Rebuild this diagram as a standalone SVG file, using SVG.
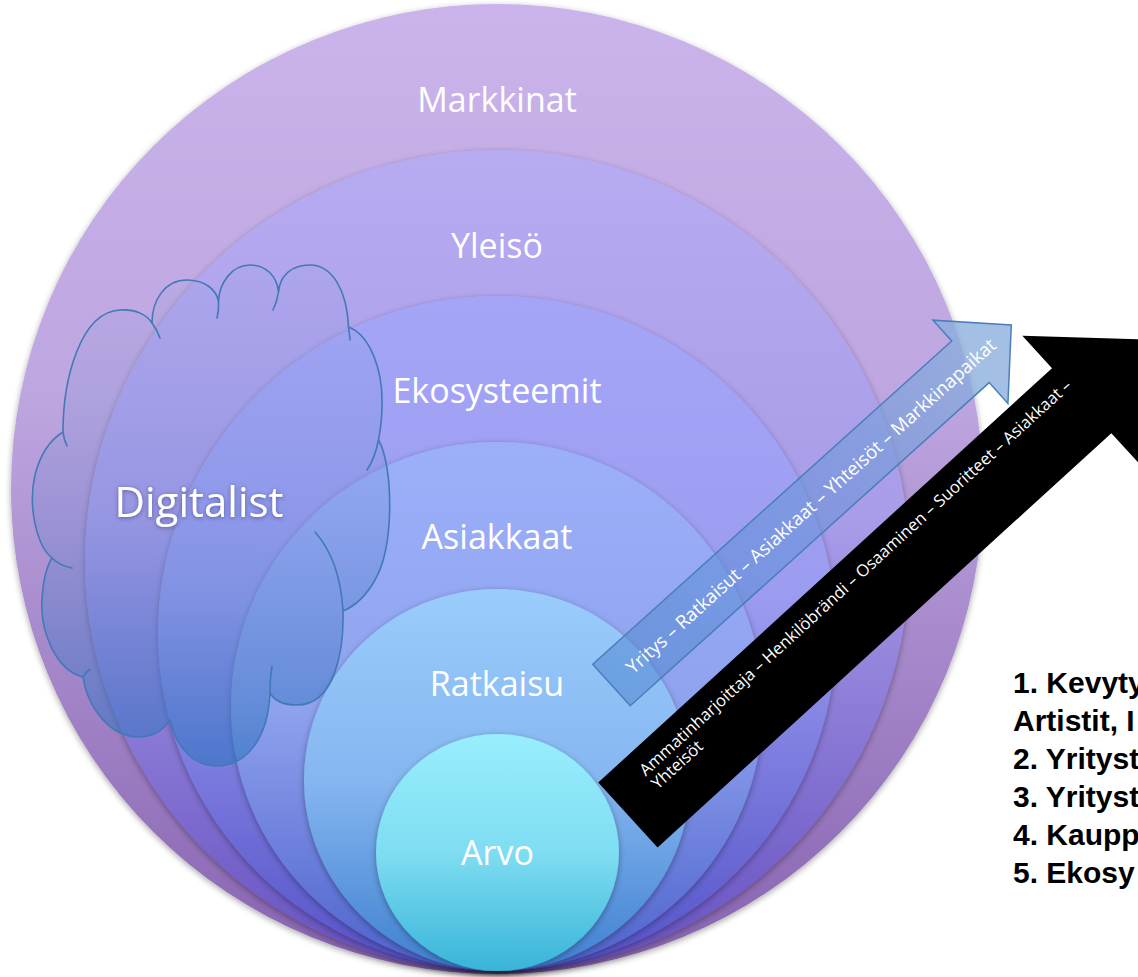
<svg xmlns="http://www.w3.org/2000/svg" width="1138" height="977" viewBox="0 0 1138 977">
<defs>
  <style>
    .lbl { font-family: "Open Sans", "Noto Sans", sans-serif; font-size: 34px; fill: #ffffff; text-anchor: middle; }
    .big { font-family: "Open Sans", "Noto Sans", sans-serif; font-size: 42px; fill: #ffffff; text-anchor: middle; }
    .atxt { font-family: "Open Sans", "Noto Sans", sans-serif; fill: #ffffff; }
    .list { font-family: "Liberation Sans", Arial, sans-serif; font-weight: bold; font-size: 30px; fill: #000000; }
    .ring { filter: url(#sh); }
    .cl { fill: none; stroke: #4279b6; stroke-width: 1.6; stroke-linecap: round; }
  </style>
  <filter id="sh" x="-5%" y="-5%" width="110%" height="112%">
    <feDropShadow dx="0" dy="2" stdDeviation="3" flood-color="#000000" flood-opacity="0.35"/>
  </filter>
  <filter id="ts" x="-10%" y="-30%" width="120%" height="160%">
    <feDropShadow dx="0" dy="1" stdDeviation="2" flood-color="#2a2a60" flood-opacity="0.55"/>
  </filter>
  <linearGradient id="g1" x1="0" y1="0" x2="0" y2="1">
    <stop offset="0" stop-color="#cab4eb"/><stop offset="0.4" stop-color="#bea6e0"/><stop offset="1" stop-color="#8763b0"/>
  </linearGradient>
  <linearGradient id="g2" x1="0" y1="0" x2="0" y2="1">
    <stop offset="0" stop-color="#b7abf2"/><stop offset="0.45" stop-color="#a99ce8"/><stop offset="1" stop-color="#6651c0"/>
  </linearGradient>
  <linearGradient id="g3" x1="0" y1="0" x2="0" y2="1">
    <stop offset="0" stop-color="#a5a5f8"/><stop offset="0.45" stop-color="#9b9cf0"/><stop offset="1" stop-color="#5452c8"/>
  </linearGradient>
  <linearGradient id="g4" x1="0" y1="0" x2="0" y2="1">
    <stop offset="0" stop-color="#9cb0fa"/><stop offset="0.5" stop-color="#8fa2ee"/><stop offset="1" stop-color="#4d62cc"/>
  </linearGradient>
  <linearGradient id="g5" x1="0" y1="0" x2="0" y2="1">
    <stop offset="0" stop-color="#9accfc"/><stop offset="0.5" stop-color="#86b6f0"/><stop offset="1" stop-color="#3e80d0"/>
  </linearGradient>
  <linearGradient id="g6" x1="0" y1="0" x2="0" y2="1">
    <stop offset="0" stop-color="#98eefd"/><stop offset="0.5" stop-color="#7fddf2"/><stop offset="1" stop-color="#38b4d8"/>
  </linearGradient>
  <linearGradient id="gc" x1="0" y1="0" x2="0" y2="1">
    <stop offset="0" stop-color="#8aa0dc" stop-opacity="0.12"/>
    <stop offset="0.5" stop-color="#6a88d4" stop-opacity="0.3"/>
    <stop offset="1" stop-color="#2e74c0" stop-opacity="0.6"/>
  </linearGradient>
  <linearGradient id="gb" gradientUnits="userSpaceOnUse" x1="0" y1="0" x2="538" y2="0">
    <stop offset="0" stop-color="#4f86d0" stop-opacity="0.55"/>
    <stop offset="0.55" stop-color="#6895d8" stop-opacity="0.55"/>
    <stop offset="1" stop-color="#94b4de" stop-opacity="0.85"/>
  </linearGradient>
</defs>

<g id="node-markkinat">
  <ellipse class="ring" cx="497" cy="489" rx="486" ry="485" fill="url(#g1)"/>
  <text class="lbl" x="497" y="112">Markkinat</text>
</g>
<g id="node-yleiso">
  <ellipse class="ring" cx="497" cy="561" rx="412" ry="411" fill="url(#g2)"/>
  <text class="lbl" x="497" y="258">Yleisö</text>
</g>
<g id="node-ekosysteemit">
  <ellipse class="ring" cx="497" cy="633.5" rx="339" ry="337.5" fill="url(#g3)"/>
  <text class="lbl" x="497" y="403">Ekosysteemit</text>
</g>
<g id="node-asiakkaat">
  <ellipse class="ring" cx="497" cy="706.5" rx="266" ry="264.5" fill="url(#g4)"/>
  <text class="lbl" x="497" y="549">Asiakkaat</text>
</g>
<g id="node-ratkaisu">
  <ellipse class="ring" cx="497" cy="780" rx="193" ry="191" fill="url(#g5)"/>
  <text class="lbl" x="497" y="696">Ratkaisu</text>
</g>
<g id="node-arvo">
  <ellipse class="ring" cx="497.5" cy="852.5" rx="121.5" ry="118.5" fill="url(#g6)"/>
  <text class="lbl" x="497.5" y="865">Arvo</text>
</g>

<g id="node-digitalist">
  <path fill="url(#gc)" stroke="#4279b6" stroke-width="1.6" stroke-linejoin="round"
    d="M63,432 C63,380 80,312 120,310 C136,309 147,315 152,323
       C152,300 165,280 187,280 C205,280 217,290 218.5,302
       C219,283 232,265 250,265 C266,265 277,276 278.5,292
       C280,275 292,265 310,265 C332,265 347,290 348.5,327
       C370,335 383,370 382,405 C382,420 380,432 378.5,440
       C393,465 395,545 375,580 C366,596 355,606 343,611
       C344,650 335,705 297,705 C283,705 274,700 270,693
       C268,740 245,766 217,766 C195,766 177,750 170,720
       C162,732 150,737 138,737 C112,737 88,710 83,677
       C55,670 40,630 42,600 C43,580 47,566 52,558
       C36,545 28,505 35,475 C40,455 50,440 63,432 Z"/>
  <path class="cl" d="M63,432 Q64,440 67,446"/>
  <path class="cl" d="M152,323 Q157,330 160,338"/>
  <path class="cl" d="M218.5,302 Q219,311 217,318"/>
  <path class="cl" d="M278.5,292 Q277,302 273,310"/>
  <path class="cl" d="M348.5,327 Q349.5,334 350,340"/>
  <path class="cl" d="M378.5,440 Q375,458 367,470"/>
  <path class="cl" d="M315,532 Q340,560 343,611"/>
  <path class="cl" d="M270,693 Q270,678 272,666"/>
  <path class="cl" d="M83,677 Q86,672 90,669"/>
  <path class="cl" d="M52,558 Q60,566 72,568"/>
  <text class="big" x="199" y="517" filter="url(#ts)">Digitalist</text>
</g>

<g id="connectors">
  <g id="arrow-blue" transform="translate(611.5,685) rotate(-42)">
    <polygon points="0,-28 483,-28 483,-56 538,0 483,56 483,28 0,28" fill="url(#gb)" stroke="#4a7ebb" stroke-width="1.5" stroke-linejoin="miter"/>
    <text class="atxt" x="268" y="7" font-size="18.6" text-anchor="middle">Yritys – Ratkaisut – Asiakkaat – Yhteisöt – Markkinapaikat</text>
  </g>
  <g id="arrow-black" transform="translate(627.9,815) rotate(-42.4)">
    <polygon points="0,-44 614.5,-44 614.5,-88 705,0 614.5,88 614.5,44 0,44" fill="#000000"/>
    <text class="atxt" x="39" y="-16.3" font-size="16.6">Ammatinharjoittaja – Henkilöbrändi – Osaaminen – Suoritteet – Asiakkaat –</text>
    <text class="atxt" x="39" y="1.7" font-size="16.6">Yhteisöt</text>
  </g>
</g>

<g id="node-list">
  <text class="list" x="1013" y="693">1. Kevyty</text>
  <text class="list" x="1013" y="731">Artistit, I</text>
  <text class="list" x="1013" y="769">2. Yrityst</text>
  <text class="list" x="1013" y="807">3. Yrityst</text>
  <text class="list" x="1013" y="845">4. Kaupp</text>
  <text class="list" x="1013" y="883">5. Ekosy</text>
</g>
</svg>
